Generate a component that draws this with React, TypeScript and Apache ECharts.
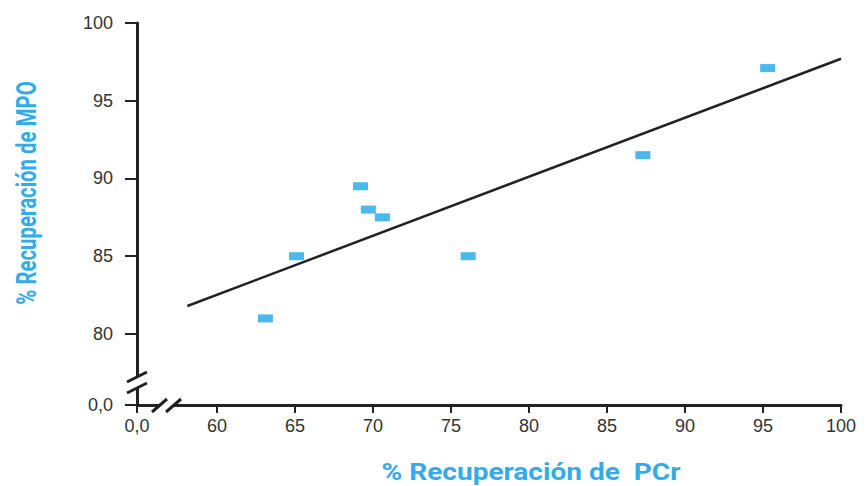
import React, { useEffect, useRef } from "react";
import * as echarts from "echarts";

// Data
const pcr = [63.1, 65.1, 69.2, 69.7, 70.6, 76.1, 87.3, 95.3];
const mpo = [81.0, 85.0, 89.5, 88.0, 87.5, 85.0, 91.5, 97.1];
const fitX = [58.1, 100];
const fitY = [81.8, 97.7];

const xTicks = [60, 65, 70, 75, 80, 85, 90, 95, 100];
const yTicks = [80, 85, 90, 95, 100];
const zeroLabel = "0,0";
const xTitle = "% Recuperación de  PCr";
const yTitle = "% Recuperación de MPO";

// axis starts (where the broken "0,0" origin sits on the scale)
const xStart = 54.87;
const yStart = 75.43;

const TICK_FONT = "'Liberation Sans', Arial, sans-serif";
const AXIS_COLOR = "#222";
const BLUE = "#1fa6e8";
const TITLE_BLUE = "#33abe8";

export default function App() {
  const ref = useRef<HTMLDivElement>(null);
  useEffect(() => {
    document.body.style.margin = "0";
    const chart = echarts.init(ref.current!, null, { renderer: "svg" });
    const fmt = (v: number, start: number) =>
      Math.abs(v - start) < 0.01 ? zeroLabel : String(Math.round(v));
    chart.setOption({
      animation: false,
      grid: { left: 137, right: 25, top: 23, bottom: 81, containLabel: false },
      xAxis: {
        type: "value",
        min: xStart,
        max: 100,
        splitLine: { show: false },
        axisLine: { show: true, onZero: false, lineStyle: { color: AXIS_COLOR, width: 3 } },
        axisTick: {
          show: true,
          length: 8,
          customValues: [xStart, ...xTicks],
          lineStyle: { color: AXIS_COLOR, width: 2 },
        },
        axisLabel: {
          customValues: [xStart, ...xTicks],
          formatter: (v: number) => fmt(v, xStart),
          color: "#333",
          fontFamily: TICK_FONT,
          fontSize: 18,
          margin: 12,
        },
      },
      yAxis: {
        type: "value",
        min: yStart,
        max: 100,
        splitLine: { show: false },
        axisLine: { show: true, onZero: false, lineStyle: { color: AXIS_COLOR, width: 3 } },
        axisTick: {
          show: true,
          length: 12,
          customValues: [yStart, ...yTicks],
          lineStyle: { color: AXIS_COLOR, width: 2 },
        },
        axisLabel: {
          customValues: [yStart, ...yTicks],
          formatter: (v: number) => fmt(v, yStart),
          color: "#333",
          fontFamily: TICK_FONT,
          fontSize: 18,
          margin: 24,
        },
      },
      series: [
        {
          type: "line",
          data: fitX.map((x, i) => [x, fitY[i]]),
          symbol: "none",
          lineStyle: { color: "#222", width: 2.5 },
          silent: true,
          z: 2,
        },
        {
          type: "scatter",
          data: pcr.map((x, i) => [x, mpo[i]]),
          symbol: "rect",
          symbolSize: [15, 8],
          itemStyle: { color: BLUE },
          z: 3,
        },
      ],
    });

    const [ox, oy] = chart.convertToPixel({ gridIndex: 0 }, [xStart, yStart]) as number[];
    const yb = oy - 23; // y-axis break centre
    const xb = ox + 30; // x-axis break centre
    const slash = (x1: number, y1: number, x2: number, y2: number) => ({
      type: "line",
      shape: { x1, y1, x2, y2 },
      style: { stroke: AXIS_COLOR, lineWidth: 3 },
      z: 10,
    });
    chart.setOption({
      graphic: [
        { type: "rect", shape: { x: ox - 4, y: yb - 5, width: 8, height: 11 }, style: { fill: "#fff" }, z: 9 },
        slash(ox - 10, yb, ox + 10, yb - 10),
        slash(ox - 10, yb + 11, ox + 10, yb + 1),
        { type: "rect", shape: { x: xb - 7, y: oy - 4, width: 14, height: 8 }, style: { fill: "#fff" }, z: 9 },
        slash(xb - 15, oy + 7, xb, oy - 6),
        slash(xb - 1, oy + 7, xb + 14, oy - 6),
        {
          type: "text",
          x: 531,
          y: 472,
          scaleX: 1.22,
          style: {
            text: xTitle,
            fill: TITLE_BLUE,
            font: "bold 23px Roboto, 'Liberation Sans', sans-serif",
            textAlign: "center",
            textVerticalAlign: "middle",
          },
        },
        {
          type: "group",
          x: 27,
          y: 193,
          rotation: Math.PI / 2,
          children: [
            {
              type: "text",
              x: 0,
              y: 0,
              scaleX: 0.85,
              scaleY: 1.12,
              style: {
                text: yTitle,
                fill: TITLE_BLUE,
                font: "bold 24px Roboto, 'Liberation Sans', sans-serif",
                textAlign: "center",
                textVerticalAlign: "middle",
              },
            },
          ],
        },
      ],
    });
    return () => chart.dispose();
  }, []);
  return <div ref={ref} style={{ width: 866, height: 486 }} />;
}
